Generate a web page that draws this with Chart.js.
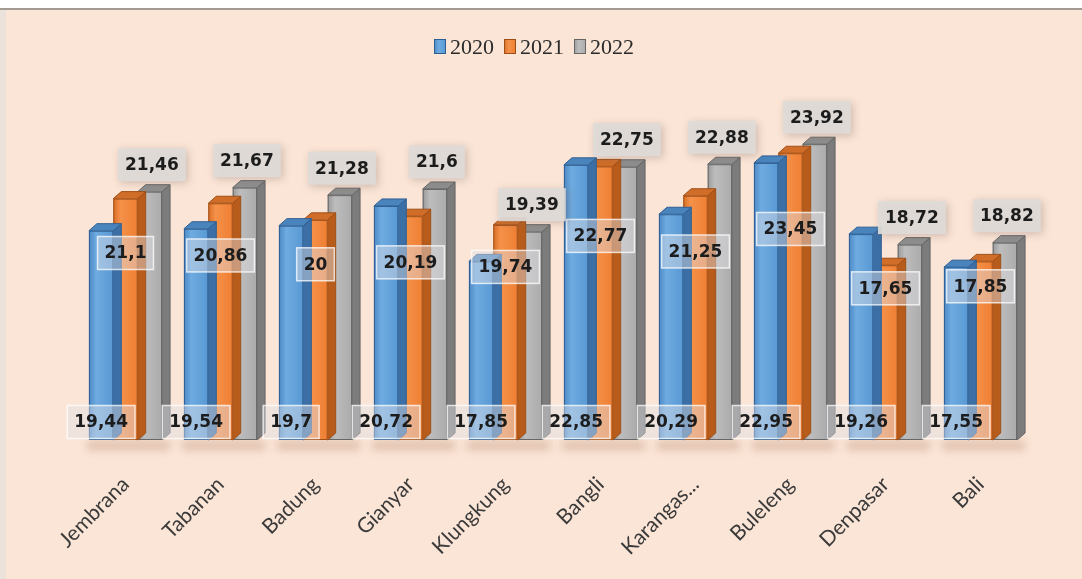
<!DOCTYPE html>
<html>
<head>
<meta charset="utf-8">
<script src="https://cdn.jsdelivr.net/npm/chart.js@4"></script>
<style>
  html, body { margin: 0; padding: 0; background: #fff; }
  #wrap { width: 1082px; height: 579px; }
</style>
</head>
<body>
<div id="wrap"><canvas id="chart" width="1082" height="579"></canvas></div>
<script>
const regions = ["Jembrana", "Tabanan", "Badung", "Gianyar", "Klungkung", "Bangli", "Karangas...", "Buleleng", "Denpasar", "Bali"];
const years = ["2020", "2021", "2022"];
const v2020 = [19.44, 19.54, 19.7, 20.72, 17.85, 22.85, 20.29, 22.95, 19.26, 17.55];
const v2021 = [21.1, 20.86, 20, 20.19, 19.74, 22.77, 21.25, 23.45, 17.65, 17.85];
const v2022 = [21.46, 21.67, 21.28, 21.6, 19.39, 22.75, 22.88, 23.92, 18.72, 18.82];
const yMin = 8.6;
const yMax = 26;

// face colours for the 3d columns
const palette = [
  { front: ["#4c88c4", "#6eabe0", "#5898d3"], side: "#3b6fa6", top: "#4a84bd", edge: "#2f5f92" },
  { front: ["#d96e26", "#f59149", "#ee7f33"], side: "#b85c1c", top: "#d06d28", edge: "#9e4f18" },
  { front: ["#9a9a9a", "#bdbdbd", "#ababab"], side: "#7c7c7c", top: "#8e8e8e", edge: "#666666" }
];
const DX = 8, DY = 7;

function fmt(v) {
  return String(v).replace(".", ",");
}

function drawColumn(ctx, x, top, base, w, c) {
  const l = x - w / 2, r = x + w / 2;
  ctx.save();
  ctx.lineWidth = 1;
  ctx.strokeStyle = c.edge;
  // right face
  ctx.fillStyle = c.side;
  ctx.beginPath();
  ctx.moveTo(r, top);
  ctx.lineTo(r + DX, top - DY);
  ctx.lineTo(r + DX, base - DY);
  ctx.lineTo(r, base);
  ctx.closePath();
  ctx.fill();
  ctx.stroke();
  // top face
  ctx.fillStyle = c.top;
  ctx.beginPath();
  ctx.moveTo(l, top);
  ctx.lineTo(l + DX, top - DY);
  ctx.lineTo(r + DX, top - DY);
  ctx.lineTo(r, top);
  ctx.closePath();
  ctx.fill();
  ctx.stroke();
  // front face
  const g = ctx.createLinearGradient(l, 0, r, 0);
  g.addColorStop(0, c.front[0]);
  g.addColorStop(0.3, c.front[1]);
  g.addColorStop(1, c.front[2]);
  ctx.fillStyle = g;
  ctx.fillRect(l, top, w, base - top);
  ctx.strokeRect(l + 0.5, top + 0.5, w - 1, base - top - 1);
  ctx.restore();
}

function labelBox(ctx, text, cx, cy, style) {
  ctx.save();
  ctx.font = "bold 17px 'DejaVu Sans'";
  const tw = ctx.measureText(text).width;
  const bw = tw + 14, bh = 33;
  const x = cx - bw / 2, y = cy - bh / 2;
  if (style === "top") {
    ctx.shadowColor = "rgba(120,100,90,0.35)";
    ctx.shadowBlur = 8;
    ctx.shadowOffsetX = 2;
    ctx.shadowOffsetY = 2;
    ctx.fillStyle = "rgba(222,219,216,0.92)";
    ctx.fillRect(x, y, bw, bh);
  } else {
    ctx.fillStyle = "rgba(225,225,230,0.45)";
    ctx.fillRect(x, y, bw, bh);
    ctx.strokeStyle = "rgba(255,255,255,0.75)";
    ctx.lineWidth = 1.5;
    ctx.strokeRect(x, y, bw, bh);
  }
  ctx.shadowColor = "transparent";
  ctx.fillStyle = "#1c1c1c";
  ctx.textAlign = "center";
  ctx.textBaseline = "middle";
  ctx.fillText(text, cx, cy + 1);
  ctx.restore();
}

const columns3d = {
  id: "columns3d",
  beforeDraw(chart) {
    const ctx = chart.ctx;
    ctx.save();
    ctx.fillStyle = "#ffffff";
    ctx.fillRect(0, 0, chart.width, chart.height);
    ctx.fillStyle = "#ece2dc";
    ctx.fillRect(0, 9, 6, chart.height);
    ctx.fillStyle = "#fbe5d7";
    ctx.fillRect(6, 10, chart.width, chart.height);
    ctx.fillStyle = "#a39a94";
    ctx.fillRect(0, 8, chart.width, 2);
    ctx.restore();
  },
  beforeDatasetsDraw(chart) {
    // soft floor shadow under each cluster
    const ctx = chart.ctx;
    ctx.save();
    ctx.filter = "blur(4px)";
    ctx.fillStyle = "rgba(170,120,90,0.35)";
    const first = chart.getDatasetMeta(0).data;
    const last = chart.getDatasetMeta(2).data;
    first.forEach((el, i) => {
      const a = el.getProps(["x", "width", "base"], true);
      const b = last[i].getProps(["x", "width"], true);
      const l = a.x - a.width / 2 - 2;
      const r = b.x + b.width / 2 + DX;
      ctx.fillRect(l, a.base + 1, r - l, 9);
    });
    ctx.restore();
  },
  afterDatasetDraw(chart, args) {
    const ctx = chart.ctx;
    const c = palette[args.index];
    args.meta.data.forEach((el) => {
      const p = el.getProps(["x", "y", "base", "width"], true);
      drawColumn(ctx, p.x, p.y, p.base, p.width, c);
    });
  },
  afterDatasetsDraw(chart) {
    const ctx = chart.ctx;
    const yScale = chart.scales.y;
    const sets = chart.data.datasets;
    // 2020 at the foot of the column
    chart.getDatasetMeta(0).data.forEach((el, i) => {
      const p = el.getProps(["x", "base"], true);
      labelBox(ctx, fmt(sets[0].data[i]), p.x, p.base - 18, "inside");
    });
    // 2021 inside the column
    chart.getDatasetMeta(1).data.forEach((el, i) => {
      const p = el.getProps(["x"], true);
      const v = sets[1].data[i];
      labelBox(ctx, fmt(v), p.x, yScale.getPixelForValue(v * 0.53 + 7.1), "inside");
    });
    // 2022 above the column
    chart.getDatasetMeta(2).data.forEach((el, i) => {
      const p = el.getProps(["x", "y"], true);
      labelBox(ctx, fmt(sets[2].data[i]), p.x + 2, p.y - 27, "top");
    });
  },
  afterDraw(chart) {
    // legend row
    const ctx = chart.ctx;
    ctx.save();
    ctx.font = "22px 'Liberation Serif'";
    ctx.textBaseline = "middle";
    const items = chart.data.datasets.map((d, i) => ({ text: d.label, c: palette[i] }));
    const gap = 10, box = 12, pad = 4;
    let total = 0;
    items.forEach((it) => { it.w = box + pad + ctx.measureText(it.text).width; total += it.w; });
    total += gap * (items.length - 1);
    let x = 534 - total / 2;
    const y = 47;
    items.forEach((it) => {
      const g = ctx.createLinearGradient(x, 0, x + box, 0);
      g.addColorStop(0, it.c.front[0]);
      g.addColorStop(0.4, it.c.front[1]);
      g.addColorStop(1, it.c.front[2]);
      ctx.fillStyle = g;
      ctx.fillRect(x, y - 8, box, 15);
      ctx.strokeStyle = it.c.edge;
      ctx.lineWidth = 1;
      ctx.strokeRect(x + 0.5, y - 7.5, box - 1, 14);
      ctx.fillStyle = "#2a2a2a";
      ctx.fillText(it.text, x + box + pad, y + 1);
      x += it.w + gap;
    });
    ctx.restore();
  }
};

new Chart(document.getElementById("chart"), {
  type: "bar",
  data: {
    labels: regions,
    datasets: [
      { label: years[0], data: v2020 },
      { label: years[1], data: v2021 },
      { label: years[2], data: v2022 }
    ].map((d) => Object.assign(d, {
      base: yMin,
      backgroundColor: "rgba(0,0,0,0)",
      borderWidth: 0,
      categoryPercentage: 0.77,
      barPercentage: 1
    }))
  },
  options: {
    responsive: false,
    animation: false,
    layout: { padding: { top: 104, left: 78, right: 54, bottom: 0 } },
    plugins: {
      legend: { display: false },
      tooltip: { enabled: false }
    },
    scales: {
      x: {
        grid: { display: false, drawTicks: false },
        border: { display: false },
        ticks: {
          color: "#3a3a3a",
          font: { family: "Lato", size: 21 },
          minRotation: 45,
          maxRotation: 45,
          padding: 32
        },
        afterFit(scale) { scale.height = 139; }
      },
      y: {
        display: false,
        min: yMin,
        max: yMax
      }
    }
  },
  plugins: [columns3d]
});
</script>
</body>
</html>
